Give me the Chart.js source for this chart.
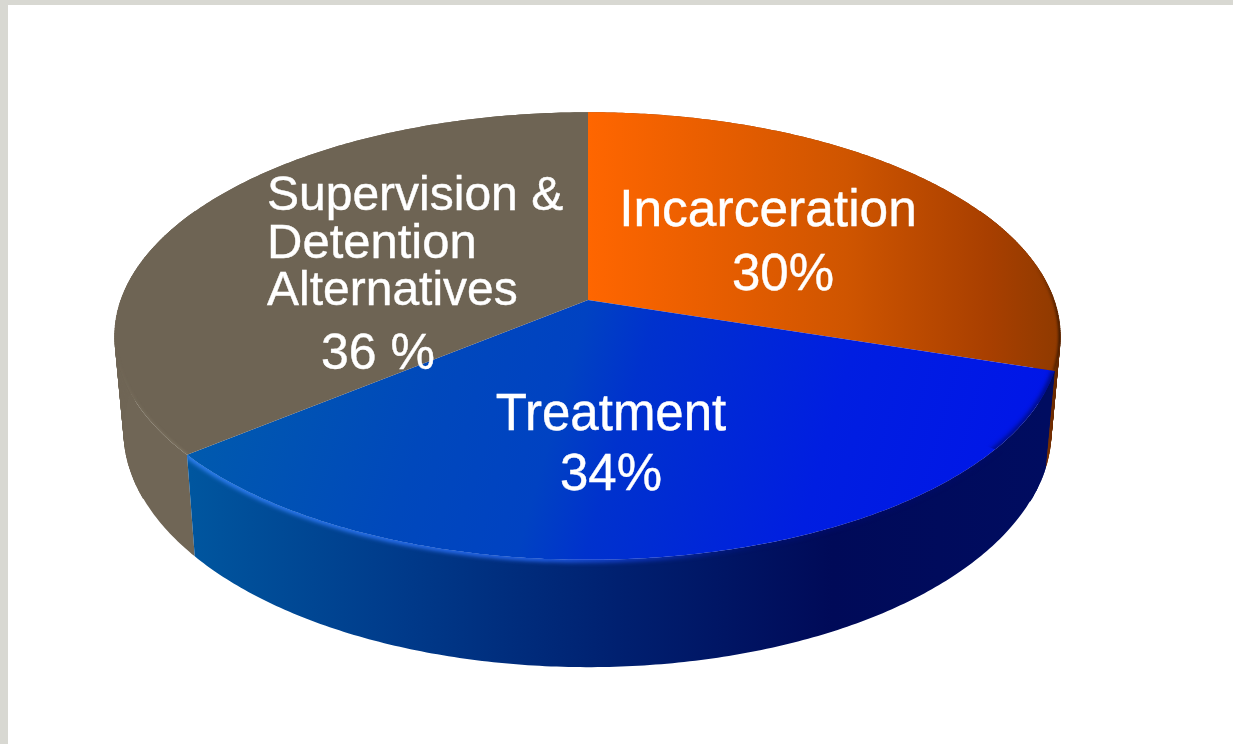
<!DOCTYPE html>
<html>
<head>
<meta charset="utf-8">
<script src="https://cdn.jsdelivr.net/npm/chart.js@4/dist/chart.umd.js"></script>
<style>
html,body{margin:0;padding:0;background:#fff;width:1233px;height:744px;overflow:hidden}
#top{position:absolute;left:0;top:0;width:1233px;height:5px;background:#d8d8d2}
#left{position:absolute;left:0;top:0;width:8px;height:744px;background:#d8d8d2}
canvas{position:absolute;left:0;top:0}
</style>
</head>
<body>
<div id="top"></div><div id="left"></div>
<canvas id="c" width="1233" height="744"></canvas>
<script>
const categories = ["Incarceration", "Treatment", "Supervision & Detention Alternatives"];
const shares = [30, 34, 36];
const labelLines = [["Incarceration", "30%"], ["Treatment", "34%"], ["Supervision &", "Detention", "Alternatives", "36 %"]];

// perspective of the tilted disc (angles come from Chart.js arc elements)
const K = 0.161;
const TOP = {x0: 588, y0: 300, Ar: 466, Al: 467, B: 218};
const BOT = {x0: 588, y0: 393, Ar: 457, Al: 458, B: 230};
function proj(a, P) {
  const u = Math.cos(a), v = -Math.sin(a), w = 1 + K * v;
  return [P.x0 + (u > 0 ? P.Ar : P.Al) * u / w, P.y0 - P.B * v / w];
}
function grad(ctx, x0, y0, x1, y1, stops) {
  const g = ctx.createLinearGradient(x0, y0, x1, y1);
  stops.forEach(s => g.addColorStop(s[0], s[1]));
  return g;
}
const hGrad = (c, x0, x1, stops) => grad(c, x0, 0, x1, 0, stops);
const STEPS = 200;
function rim(ctx, s, e, P, move) {
  for (let i = 0; i <= STEPS; i++) {
    const p = proj(s + (e - s) * i / STEPS, P);
    if (i === 0 && move) ctx.moveTo(p[0], p[1]); else ctx.lineTo(p[0], p[1]);
  }
}
const topFill = [
  c => hGrad(c, 588, 1060, [[0, "#ff6600"], [0.55, "#cf5500"], [0.85, "#a83f00"], [1, "#8f3a00"]]),
  c => grad(c, 200, 330, 1000, 560, [[0, "#005cac"], [0.29, "#0048bc"], [0.44, "#0042c2"], [0.52, "#0032cd"], [0.76, "#001ee1"], [1, "#0016e8"]]),
  c => "#6e6454"
];
const sideFill = [
  c => hGrad(c, 1040, 1062, [[0, "#8a3600"], [1, "#5a2400"]]),
  c => hGrad(c, 190, 1046, [[0, "#00569f"], [0.25, "#003a8a"], [0.5, "#002070"], [0.75, "#000a58"], [1, "#000c60"]]),
  c => "#706656"
];
const rimGlow = [
  c => hGrad(c, 588, 1060, [[0, "rgba(120,50,0,0)"], [0.94, "rgba(120,50,0,0)"], [1, "rgba(50,20,0,.8)"]]),
  c => hGrad(c, 190, 1046, [[0, "rgba(50,130,245,1)"], [0.4, "rgba(40,105,245,.95)"], [0.56, "rgba(20,60,235,.5)"], [0.66, "rgba(0,20,160,.2)"], [0.78, "rgba(0,10,110,.6)"], [1, "rgba(0,10,100,.8)"]]),
  c => grad(c, 0, 350, 0, 450, [[0, "rgba(135,125,105,0)"], [1, "rgba(135,125,105,.45)"]])
];

function slicePath(ctx, s, e) {
  ctx.beginPath();
  ctx.moveTo(TOP.x0, TOP.y0);
  rim(ctx, s, e, TOP, false);
  ctx.closePath();
}

// tilted top face for each Chart.js arc element
Chart.ArcElement.prototype.draw = function (ctx) {
  const s = this.startAngle, e = this.endAngle, i = this.$context.index;
  ctx.save();
  slicePath(ctx, s, e);
  ctx.fillStyle = topFill[i](ctx);
  ctx.fill();
  if (i === 1) {
    // treatment: the soft rim falls on both top face and side wall
    ctx.beginPath();
    ctx.moveTo(TOP.x0, TOP.y0);
    rim(ctx, s, e, TOP, false);
    rim(ctx, e, s, BOT, false);
    ctx.closePath();
  }
  ctx.clip();
  ctx.beginPath();
  rim(ctx, s, e, TOP, true);
  ctx.filter = i === 1 ? "blur(2px)" : "blur(1px)";
  ctx.lineWidth = i === 1 ? 5.5 : 4;
  ctx.strokeStyle = rimGlow[i](ctx);
  ctx.stroke();
  ctx.restore();
};

const sidePlugin = {
  id: "discSide",
  beforeDatasetsDraw(chart) {
    const ctx = chart.ctx, arcs = chart.getDatasetMeta(0).data;
    [0, 2, 1].forEach(i => {
      const s = arcs[i].startAngle, e = arcs[i].endAngle;
      ctx.save();
      const fill = sideFill[i](ctx);
      ctx.fillStyle = fill;
      ctx.strokeStyle = fill;
      ctx.lineWidth = 0.8;
      // silhouette tangents: only the far-left / far-right strips need filling out
      for (let k = 0; k < STEPS; k++) {
        const a0 = s + (e - s) * k / STEPS, a1 = s + (e - s) * (k + 1) / STEPS;
        const p = [proj(a0, TOP), proj(a1, TOP), proj(a1, BOT), proj(a0, BOT)];
        if (Math.abs(Math.cos(a0)) < 0.9) continue;
        ctx.beginPath();
        p.forEach((q, n) => n ? ctx.lineTo(q[0], q[1]) : ctx.moveTo(q[0], q[1]));
        ctx.closePath();
        ctx.fill();
        ctx.stroke();
      }
      ctx.beginPath();
      rim(ctx, s, e, TOP, true);
      rim(ctx, e, s, BOT, false);
      ctx.closePath();
      ctx.fill();
      ctx.restore();
    });
  }
};

const LAYOUT = [
  {xs: [768, 783], ys: [226, 290], size: [51.5, 51], align: "center"},
  {xs: [611, 611], ys: [430, 490], size: [51, 51], align: "center"},
  {xs: [267, 267, 267, 321], ys: [210, 258, 305, 369], size: [48, 49, 48, 50], align: "left"}
];
const labelPlugin = {
  id: "sliceLabels",
  afterDatasetsDraw(chart) {
    const ctx = chart.ctx;
    ctx.save();
    ctx.fillStyle = "#fff";
    ctx.strokeStyle = "#fff";
    ctx.lineWidth = 0.4;
    ctx.textBaseline = "alphabetic";
    labelLines.forEach((lines, i) => {
      const L = LAYOUT[i];
      ctx.textAlign = L.align;
      lines.forEach((t, j) => {
        ctx.font = L.size[j] + 'px "Liberation Sans", Arial, sans-serif';
        ctx.fillText(t, L.xs[j], L.ys[j]);
        ctx.strokeText(t, L.xs[j], L.ys[j]);
      });
    });
    ctx.restore();
  }
};

new Chart(document.getElementById("c"), {
  type: "pie",
  data: {labels: categories, datasets: [{data: shares, backgroundColor: ["#ff6600", "#0036cc", "#6e6454"], borderWidth: 0}]},
  options: {
    responsive: false,
    animation: false,
    events: [],
    layout: {padding: 0},
    plugins: {legend: {display: false}, title: {display: false}, tooltip: {enabled: false}}
  },
  plugins: [sidePlugin, labelPlugin]
});
</script>
</body>
</html>
